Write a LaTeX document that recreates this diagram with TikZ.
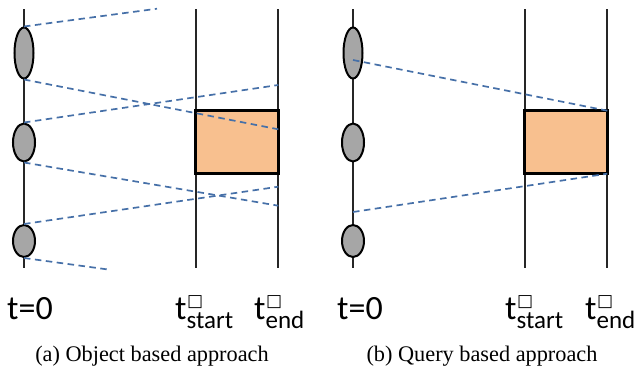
\documentclass[tikz,border=0pt]{standalone}
\usepackage{fontspec}
\setmainfont{Liberation Serif}
\newfontfamily\calfont{Carlito}
\newfontfamily\symfont{DejaVu Sans}
\usepackage{tikz}
\usetikzlibrary{shapes.geometric}

\definecolor{msgblue}{RGB}{70,112,168}
\definecolor{winorange}{RGB}{248,192,143}
\definecolor{objgray}{RGB}{166,166,166}

% t with a box on top and a subscript
\newcommand{\tlab}[1]{t\rlap{\hspace{0.5pt}\raisebox{13pt}{\symfont\fontsize{17}{17}\selectfont □}}\raisebox{-9pt}{\fontsize{25}{25}\selectfont #1}}

\begin{document}
\begin{tikzpicture}
[
x=1pt, y=-1pt,
axis/.style={draw=black!85, line width=2pt},
obj/.style={ellipse, draw=black, fill=objgray, line width=2pt, inner sep=0pt},
qbox/.style={draw=black, fill=winorange, line width=2.6pt},
msg/.style={draw=msgblue, line width=1.7pt, dash pattern=on 6.5pt off 4.5pt},
tlabel/.style={anchor=base west, inner sep=0pt, font=\calfont\fontsize{34}{34}\selectfont},
caption/.style={anchor=base, inner sep=0pt, font=\fontsize{22.3}{26}\selectfont}
]
\useasboundingbox (0,0) rectangle (634,373);

%Panel (a)
\draw[axis] (24,9) -- (24,268);
\draw[axis] (195.7,9) -- (195.7,268);
\draw[axis] (278.3,9) -- (278.3,268);
\draw[qbox] (195.7,110.7) rectangle (278.3,173.7);
\node[obj, minimum width=19pt, minimum height=51pt] (a1) at (24,53) {};
\node[obj, minimum width=22pt, minimum height=38pt] (a2) at (24,142.5) {};
\node[obj, minimum width=22pt, minimum height=32pt] (a3) at (24,241) {};

\coordinate (a1e) at (157,8.7);
\coordinate (a2e) at (278.3,129.3);
\coordinate (a3e) at (278.3,85);
\coordinate (a4e) at (278.3,205.7);
\coordinate (a5e) at (278.3,186.7);
\coordinate (a6e) at (106.7,269.3);

\draw[msg] (a1.north) -- (a1e);
\draw[msg] (a1.south) -- (a2e);
\draw[msg] (a2.north) -- (a3e);
\draw[msg] (a2.south) -- (a4e);
\draw[msg] (a3.north) -- (a5e);
\draw[msg] (a3.south) -- (a6e);

%Panel (b)
\draw[axis] (353,9) -- (353,268);
\draw[axis] (524.7,9) -- (524.7,268);
\draw[axis] (607.3,9) -- (607.3,268);
\draw[qbox] (524.7,110.7) rectangle (607.3,173.7);
\coordinate (winne) at (607.3,110.7);
\coordinate (winse) at (607.3,173.7);
\node[obj, minimum width=19pt, minimum height=51pt] (b1) at (353,53) {};
\node[obj, minimum width=22pt, minimum height=38pt] (b2) at (353,142.5) {};
\node[obj, minimum width=22pt, minimum height=32pt] (b3) at (353,241) {};
\coordinate (bq1) at (353,60);
\coordinate (bq2) at (353,212);

\draw[msg] (bq1) -- (winne);
\draw[msg] (bq2) -- (winse);

%Labels
\node[tlabel] (t0a) at (7,319) {t=0};
\node[tlabel] (tsa) at (175,319) {\tlab{start}};
\node[tlabel] (tea) at (254,319) {\tlab{end}};
\node[tlabel] (t0b) at (337,319) {t=0};
\node[tlabel] (tsb) at (505,319) {\tlab{start}};
\node[tlabel] (teb) at (585,319) {\tlab{end}};

\node[caption] (capa) at (152,361.5) {(a) Object based approach};
\node[caption] (capb) at (482,361.5) {(b) Query based approach};
\end{tikzpicture}
\end{document}
